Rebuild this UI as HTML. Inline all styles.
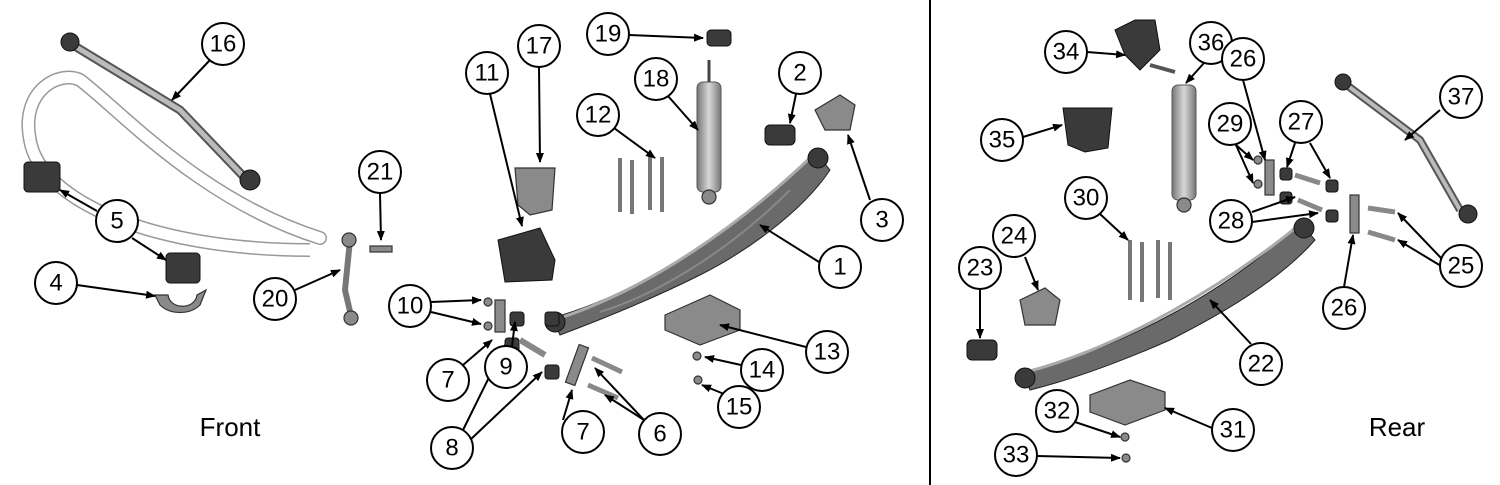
<!DOCTYPE html>
<html><head><meta charset="utf-8"><style>
html,body{margin:0;padding:0;background:#fff;}
svg{display:block;font-family:"Liberation Sans",sans-serif;}
.c{fill:#fff;stroke:#000;stroke-width:2;}
.t{font-size:24px;text-anchor:middle;dominant-baseline:central;fill:#000;}
.l{stroke:#000;stroke-width:2;fill:none;marker-end:url(#a);}
.p{fill:#8a8a8a;stroke:#333;stroke-width:1.2;}
.d{fill:#3a3a3a;stroke:#111;stroke-width:1;}
</style></head><body>
<svg width="1500" height="485" viewBox="0 0 1500 485">
<defs><marker id="a" markerWidth="10" markerHeight="8" refX="9" refY="4" orient="auto" markerUnits="userSpaceOnUse"><path d="M0,0 L10,4 L0,8z" fill="#000"/></marker>
<linearGradient id="g" x1="0" y1="0" x2="1" y2="0"><stop offset="0" stop-color="#777"/><stop offset=".5" stop-color="#d8d8d8"/><stop offset="1" stop-color="#777"/></linearGradient></defs>
<line x1="930" y1="0" x2="930" y2="485" stroke="#000" stroke-width="2"/>
<text x="230" y="436" font-size="26" text-anchor="middle">Front</text>
<text x="1397" y="436" font-size="26" text-anchor="middle">Rear</text>

<path d="M30,140 C20,90 60,70 80,80 C120,110 200,200 320,238" stroke="#999" stroke-width="14" fill="none" stroke-linecap="round"/>
<path d="M30,140 C20,90 60,70 80,80 C120,110 200,200 320,238" stroke="#fff" stroke-width="11" fill="none" stroke-linecap="round"/>
<path d="M30,140 C40,200 150,250 310,250" stroke="#999" stroke-width="14" fill="none"/>
<path d="M30,140 C40,200 150,250 310,250" stroke="#fff" stroke-width="11" fill="none"/>
<path d="M68,42 L180,110 L245,178" stroke="#555" stroke-width="9" fill="none"/>
<path d="M68,42 L180,110 L245,178" stroke="#bbb" stroke-width="5" fill="none"/>
<circle cx="70" cy="42" r="9" class="d"/><circle cx="250" cy="180" r="10" class="d"/>
<rect x="24" y="162" width="36" height="30" rx="4" class="d"/>
<rect x="166" y="253" width="34" height="30" rx="4" class="d"/>
<path d="M155,295 L168,295 C170,310 195,310 197,295 L206,290 L200,305 C190,315 170,315 160,305z" class="p"/>
<path d="M350,240 L345,290 L352,320" stroke="#777" stroke-width="6" fill="none"/>
<circle cx="349" cy="240" r="7" class="p"/><circle cx="351" cy="318" r="7" class="p"/>
<rect x="370" y="246" width="22" height="6" class="p"/>

<path d="M552,318 C650,290 750,220 815,152 L830,170 C800,215 740,255 700,275 C650,300 600,320 560,335z" fill="#6a6a6a" stroke="#222"/>
<path d="M560,318 C650,288 740,225 812,156" stroke="#aaa" stroke-width="3" fill="none"/>
<path d="M600,312 C670,290 740,240 790,190" stroke="#888" stroke-width="2" fill="none"/>
<circle cx="555" cy="322" r="10" class="d"/><circle cx="818" cy="158" r="10" class="d"/>
<rect x="765" y="125" width="30" height="20" rx="5" class="d"/>
<path d="M815,110 L840,95 L855,105 L850,130 L825,130z" class="p"/>
<rect x="697" y="82" width="24" height="110" rx="6" fill="url(#g)" stroke="#555"/>
<line x1="709" y1="60" x2="709" y2="82" stroke="#444" stroke-width="3"/>
<circle cx="709" cy="197" r="7" class="p"/>
<rect x="707" y="30" width="24" height="16" rx="4" class="d"/>
<path d="M515,168 L555,168 L552,210 L530,215 L518,205z" class="p"/>
<path d="M498,240 L540,228 L555,260 L552,280 L505,282z" class="d"/>
<path d="M620,158 L620,212 M632,160 L632,214 M650,155 L650,210 M662,157 L662,212" stroke="#777" stroke-width="4"/>
<path d="M665,315 L710,295 L740,310 L740,330 L700,345 L665,330z" class="p"/>
<rect x="495" y="300" width="10" height="32" class="p"/>
<rect x="510" y="312" width="14" height="14" rx="3" class="d"/><rect x="545" y="312" width="14" height="14" rx="3" class="d"/>
<rect x="505" y="338" width="14" height="14" rx="3" class="d"/><rect x="545" y="365" width="14" height="14" rx="3" class="d"/>
<rect x="572" y="345" width="10" height="40" class="p" transform="rotate(20 577 365)"/>
<line x1="520" y1="340" x2="545" y2="355" stroke="#888" stroke-width="6"/>
<line x1="592" y1="358" x2="622" y2="372" stroke="#888" stroke-width="5"/>
<line x1="588" y1="385" x2="618" y2="398" stroke="#888" stroke-width="5"/>
<circle cx="488" cy="302" r="4" class="p"/><circle cx="488" cy="326" r="4" class="p"/>
<circle cx="697" cy="356" r="4" class="p"/><circle cx="698" cy="380" r="4" class="p"/>

<path d="M1022,372 C1120,350 1230,290 1300,222 L1315,240 C1280,280 1220,315 1170,340 C1120,362 1070,380 1030,390z" fill="#6a6a6a" stroke="#222"/>
<path d="M1030,371 C1125,345 1225,285 1298,226" stroke="#aaa" stroke-width="3" fill="none"/>
<circle cx="1025" cy="378" r="10" class="d"/><circle cx="1304" cy="228" r="10" class="d"/>
<path d="M1090,395 L1130,380 L1165,392 L1165,410 L1125,425 L1090,412z" class="p"/>
<circle cx="1125" cy="437" r="4" class="p"/><circle cx="1126" cy="458" r="4" class="p"/>
<rect x="1172" y="85" width="24" height="115" rx="6" fill="url(#g)" stroke="#555"/>
<circle cx="1184" cy="205" r="7" class="p"/>
<path d="M1115,30 L1135,20 L1155,20 L1160,50 L1140,70 L1125,55z" class="d"/>
<line x1="1150" y1="65" x2="1175" y2="72" stroke="#555" stroke-width="4"/>
<path d="M1063,108 L1112,108 L1108,148 L1085,152 L1068,145z" class="d"/>
<path d="M1130,240 L1130,300 M1142,242 L1142,302 M1158,240 L1158,298 M1170,242 L1170,300" stroke="#777" stroke-width="4"/>
<path d="M1020,300 L1045,288 L1060,300 L1055,325 L1025,325z" class="p"/>
<rect x="967" y="340" width="30" height="20" rx="5" class="d"/>
<path d="M1340,80 L1420,140 L1460,210" stroke="#555" stroke-width="8" fill="none"/>
<path d="M1340,80 L1420,140 L1460,210" stroke="#bbb" stroke-width="4" fill="none"/>
<circle cx="1343" cy="82" r="8" class="d"/><circle cx="1468" cy="214" r="9" class="d"/>
<rect x="1280" y="168" width="12" height="12" rx="3" class="d"/><rect x="1326" y="180" width="12" height="12" rx="3" class="d"/>
<rect x="1280" y="192" width="12" height="12" rx="3" class="d"/><rect x="1326" y="210" width="12" height="12" rx="3" class="d"/>
<rect x="1265" y="160" width="9" height="35" class="p"/><rect x="1350" y="195" width="9" height="38" class="p"/>
<line x1="1295" y1="175" x2="1320" y2="183" stroke="#888" stroke-width="5"/>
<line x1="1298" y1="200" x2="1322" y2="210" stroke="#888" stroke-width="5"/>
<line x1="1368" y1="208" x2="1395" y2="212" stroke="#888" stroke-width="5"/>
<line x1="1368" y1="232" x2="1395" y2="240" stroke="#888" stroke-width="5"/>
<circle cx="1258" cy="160" r="4" class="p"/><circle cx="1258" cy="184" r="4" class="p"/>

<g>
<line class="l" x1="210" y1="60" x2="172" y2="100"/>
<line class="l" x1="97" y1="211" x2="60" y2="190"/>
<line class="l" x1="132" y1="238" x2="166" y2="260"/>
<line class="l" x1="77" y1="285" x2="155" y2="296"/>
<line class="l" x1="380" y1="194" x2="381" y2="240"/>
<line class="l" x1="295" y1="290" x2="340" y2="270"/>
<line class="l" x1="431" y1="302" x2="481" y2="300"/>
<line class="l" x1="431" y1="312" x2="481" y2="324"/>
<line class="l" x1="463" y1="365" x2="492" y2="340"/>
<line class="l" x1="512" y1="346" x2="515" y2="322"/>
<line class="l" x1="463" y1="430" x2="505" y2="345"/>
<line class="l" x1="470" y1="440" x2="542" y2="372"/>
<line class="l" x1="563" y1="420" x2="572" y2="390"/>
<line class="l" x1="644" y1="420" x2="595" y2="368"/>
<line class="l" x1="644" y1="420" x2="605" y2="395"/>
<line class="l" x1="724" y1="394" x2="702" y2="385"/>
<line class="l" x1="741" y1="365" x2="705" y2="357"/>
<line class="l" x1="806" y1="347" x2="720" y2="325"/>
<line class="l" x1="819" y1="262" x2="760" y2="225"/>
<line class="l" x1="870" y1="200" x2="848" y2="135"/>
<line class="l" x1="796" y1="94" x2="790" y2="123"/>
<line class="l" x1="629" y1="35" x2="703" y2="38"/>
<line class="l" x1="539" y1="67" x2="540" y2="162"/>
<line class="l" x1="490" y1="94" x2="522" y2="226"/>
<line class="l" x1="668" y1="96" x2="698" y2="130"/>
<line class="l" x1="614" y1="128" x2="655" y2="158"/>
<line class="l" x1="1087" y1="52" x2="1125" y2="55"/>
<line class="l" x1="1204" y1="63" x2="1186" y2="83"/>
<line class="l" x1="1243" y1="80" x2="1265" y2="160"/>
<line class="l" x1="1236" y1="145" x2="1253" y2="160"/>
<line class="l" x1="1236" y1="145" x2="1253" y2="183"/>
<line class="l" x1="1295" y1="143" x2="1287" y2="167"/>
<line class="l" x1="1310" y1="143" x2="1330" y2="178"/>
<line class="l" x1="1440" y1="110" x2="1405" y2="140"/>
<line class="l" x1="1023" y1="137" x2="1062" y2="125"/>
<line class="l" x1="1100" y1="214" x2="1128" y2="240"/>
<line class="l" x1="1252" y1="212" x2="1295" y2="197"/>
<line class="l" x1="1252" y1="222" x2="1318" y2="213"/>
<line class="l" x1="1025" y1="257" x2="1038" y2="290"/>
<line class="l" x1="980" y1="290" x2="980" y2="338"/>
<line class="l" x1="1441" y1="258" x2="1398" y2="213"/>
<line class="l" x1="1441" y1="266" x2="1398" y2="240"/>
<line class="l" x1="1344" y1="287" x2="1353" y2="235"/>
<line class="l" x1="1251" y1="344" x2="1210" y2="300"/>
<line class="l" x1="1212" y1="428" x2="1165" y2="408"/>
<line class="l" x1="1075" y1="422" x2="1120" y2="437"/>
<line class="l" x1="1037" y1="456" x2="1120" y2="458"/>
</g>

<g>
<circle class="c" cx="223" cy="44" r="21"/><text class="t" x="223" y="44">16</text>
<circle class="c" cx="117" cy="221" r="21"/><text class="t" x="117" y="221">5</text>
<circle class="c" cx="56" cy="283" r="21"/><text class="t" x="56" y="283">4</text>
<circle class="c" cx="380" cy="172" r="21"/><text class="t" x="380" y="172">21</text>
<circle class="c" cx="275" cy="299" r="21"/><text class="t" x="275" y="299">20</text>
<circle class="c" cx="410" cy="306" r="21"/><text class="t" x="410" y="306">10</text>
<circle class="c" cx="448" cy="380" r="21"/><text class="t" x="448" y="380">7</text>
<circle class="c" cx="506" cy="367" r="21"/><text class="t" x="506" y="367">9</text>
<circle class="c" cx="452" cy="448" r="21"/><text class="t" x="452" y="448">8</text>
<circle class="c" cx="583" cy="432" r="21"/><text class="t" x="583" y="432">7</text>
<circle class="c" cx="660" cy="434" r="21"/><text class="t" x="660" y="434">6</text>
<circle class="c" cx="739" cy="407" r="21"/><text class="t" x="739" y="407">15</text>
<circle class="c" cx="762" cy="370" r="21"/><text class="t" x="762" y="370">14</text>
<circle class="c" cx="827" cy="352" r="21"/><text class="t" x="827" y="352">13</text>
<circle class="c" cx="840" cy="267" r="21"/><text class="t" x="840" y="267">1</text>
<circle class="c" cx="882" cy="220" r="21"/><text class="t" x="882" y="220">3</text>
<circle class="c" cx="800" cy="73" r="21"/><text class="t" x="800" y="73">2</text>
<circle class="c" cx="608" cy="34" r="21"/><text class="t" x="608" y="34">19</text>
<circle class="c" cx="539" cy="46" r="21"/><text class="t" x="539" y="46">17</text>
<circle class="c" cx="487" cy="73" r="21"/><text class="t" x="487" y="73">11</text>
<circle class="c" cx="656" cy="79" r="21"/><text class="t" x="656" y="79">18</text>
<circle class="c" cx="598" cy="115" r="21"/><text class="t" x="598" y="115">12</text>
<circle class="c" cx="1066" cy="52" r="21"/><text class="t" x="1066" y="52">34</text>
<circle class="c" cx="1211" cy="43" r="21"/><text class="t" x="1211" y="43">36</text>
<circle class="c" cx="1243" cy="59" r="21"/><text class="t" x="1243" y="59">26</text>
<circle class="c" cx="1230" cy="124" r="21"/><text class="t" x="1230" y="124">29</text>
<circle class="c" cx="1301" cy="122" r="21"/><text class="t" x="1301" y="122">27</text>
<circle class="c" cx="1461" cy="97" r="21"/><text class="t" x="1461" y="97">37</text>
<circle class="c" cx="1002" cy="140" r="21"/><text class="t" x="1002" y="140">35</text>
<circle class="c" cx="1086" cy="198" r="21"/><text class="t" x="1086" y="198">30</text>
<circle class="c" cx="1231" cy="221" r="21"/><text class="t" x="1231" y="221">28</text>
<circle class="c" cx="1014" cy="236" r="21"/><text class="t" x="1014" y="236">24</text>
<circle class="c" cx="980" cy="268" r="21"/><text class="t" x="980" y="268">23</text>
<circle class="c" cx="1461" cy="266" r="21"/><text class="t" x="1461" y="266">25</text>
<circle class="c" cx="1344" cy="308" r="21"/><text class="t" x="1344" y="308">26</text>
<circle class="c" cx="1261" cy="364" r="21"/><text class="t" x="1261" y="364">22</text>
<circle class="c" cx="1233" cy="430" r="21"/><text class="t" x="1233" y="430">31</text>
<circle class="c" cx="1057" cy="411" r="21"/><text class="t" x="1057" y="411">32</text>
<circle class="c" cx="1016" cy="455" r="21"/><text class="t" x="1016" y="455">33</text>
</g>
</svg>
</body></html>
